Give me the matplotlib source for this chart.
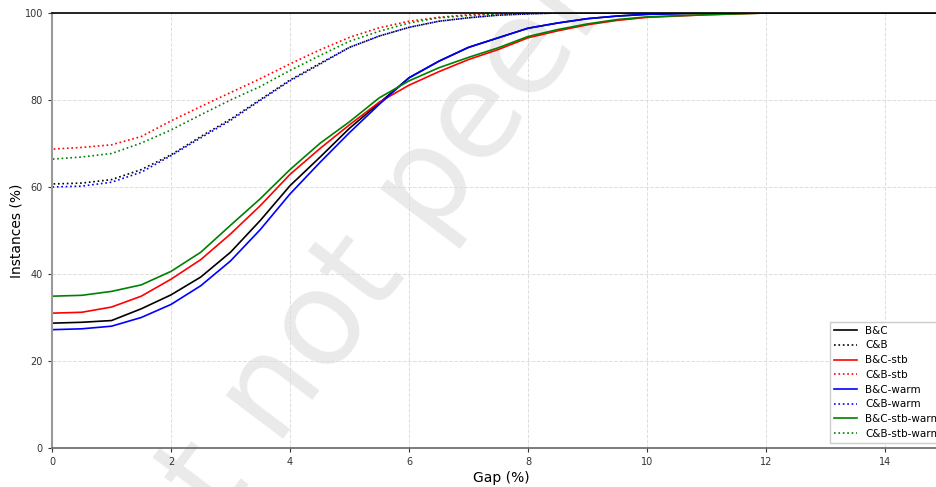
import matplotlib
matplotlib.use("Agg")
import matplotlib.pyplot as plt

# Gap values (%) at which the curves were read; the repeated 0 gives the jump at gap = 0
gap = [0, 0, 0.5, 1.0, 1.5, 2.0, 2.5, 3.0, 3.5, 4.0, 4.5, 5.0, 5.5, 6.0, 6.5, 7.0,
       7.5, 8.0, 8.5, 9.0, 9.5, 10.0, 11.0, 12.0, 15.5]

# Instances (%) for each method
bc = [26.5, 28.7, 28.9, 29.3, 32.0, 35.2, 39.3, 45.0, 52.3, 60.3, 66.8, 73.5, 79.3,
      85.1, 88.9, 92.1, 94.3, 96.5, 97.7, 98.7, 99.3, 99.7, 100, 100, 100]
cb = [57.0, 60.7, 60.9, 61.7, 64.0, 67.4, 71.6, 75.6, 80.1, 84.6, 88.4, 92.1, 94.7,
      96.7, 98.1, 98.9, 99.5, 99.8, 100, 100, 100, 100, 100, 100, 100]
bc_stb = [27.5, 31.0, 31.2, 32.4, 34.9, 38.8, 43.3, 49.2, 55.7, 62.9, 68.8, 74.3, 79.5,
          83.4, 86.5, 89.3, 91.6, 94.3, 95.9, 97.3, 98.3, 99.0, 99.6, 100, 100]
cb_stb = [63.0, 68.7, 69.1, 69.7, 71.6, 75.2, 78.5, 81.7, 84.9, 88.3, 91.5, 94.4, 96.6,
          98.1, 99.0, 99.6, 99.8, 100, 100, 100, 100, 100, 100, 100, 100]
bc_warm = [24.3, 27.2, 27.4, 28.0, 30.0, 33.0, 37.3, 43.0, 50.2, 58.4, 65.6, 72.5, 79.0,
           85.1, 88.9, 92.1, 94.3, 96.5, 97.7, 98.7, 99.3, 99.7, 100, 100, 100]
cb_warm = [53.0, 60.0, 60.2, 61.1, 63.4, 67.2, 71.3, 75.3, 79.9, 84.4, 88.2, 92.1, 94.7,
           96.7, 98.1, 98.9, 99.5, 99.8, 100, 100, 100, 100, 100, 100, 100]
bc_stb_warm = [28.0, 34.9, 35.1, 36.0, 37.5, 40.6, 45.0, 51.2, 57.3, 64.0, 70.0, 75.0, 80.5,
               84.4, 87.4, 89.8, 92.0, 94.6, 96.2, 97.5, 98.5, 99.1, 99.6, 100, 100]
cb_stb_warm = [61.5, 66.4, 66.9, 67.7, 70.1, 73.1, 76.6, 80.0, 83.1, 86.8, 90.2, 93.5, 95.8,
               97.7, 98.9, 99.4, 99.8, 100, 100, 100, 100, 100, 100, 100, 100]

series = [
    ("B&C", bc, "black", "-"),
    ("C&B", cb, "black", ":"),
    ("B&C-stb", bc_stb, "red", "-"),
    ("C&B-stb", cb_stb, "red", ":"),
    ("B&C-warm", bc_warm, "blue", "-"),
    ("C&B-warm", cb_warm, "blue", ":"),
    ("B&C-stb-warm", bc_stb_warm, "green", "-"),
    ("C&B-stb-warm", cb_stb_warm, "green", ":"),
]

fig = plt.figure(figsize=(9.37, 4.87), dpi=100)
# axes run a little past the right edge, like the cropped original
ax = fig.add_axes([52 / 937, 39 / 487, 898 / 937, 435 / 487])
ax.patch.set_alpha(0)

# watermark
ax.text(0.470, 0.649, "Preprint not peer reviewed", transform=fig.transFigure,
        rotation=53, fontsize=95, color="#eaeaea", ha="center", va="center",
        rotation_mode="anchor", zorder=0.1, clip_on=False)

for name, vals, col, ls in series:
    ax.plot(gap, vals, color=col, linestyle=ls, linewidth=1.2, label=name, zorder=2)

ax.set_xlim(0, 898 / 59.5)
ax.set_ylim(0, 100)
ax.set_xticks(range(0, 16, 2))
ax.set_yticks(range(0, 101, 20))
ax.grid(True, linestyle="--", color="#dddddd", linewidth=0.7)
ax.tick_params(labelsize=7, colors="#333333", length=3)

ax.spines["top"].set_color("black")
ax.spines["top"].set_linewidth(1.2)
ax.spines["left"].set_color("#999999")
ax.spines["left"].set_linewidth(1.5)
ax.spines["bottom"].set_color("#666666")
ax.spines["bottom"].set_linewidth(1.2)
ax.spines["right"].set_visible(False)

ax.set_xlabel("Gap (%)", fontsize=10, labelpad=3)
ax.set_ylabel("Instances (%)", fontsize=10, labelpad=1)

ax.legend(loc="lower right", fontsize=7.5, handlelength=2.2, labelspacing=0.45,
          framealpha=1, edgecolor="#cccccc", fancybox=False)

fig.savefig("out.png", dpi=100)
